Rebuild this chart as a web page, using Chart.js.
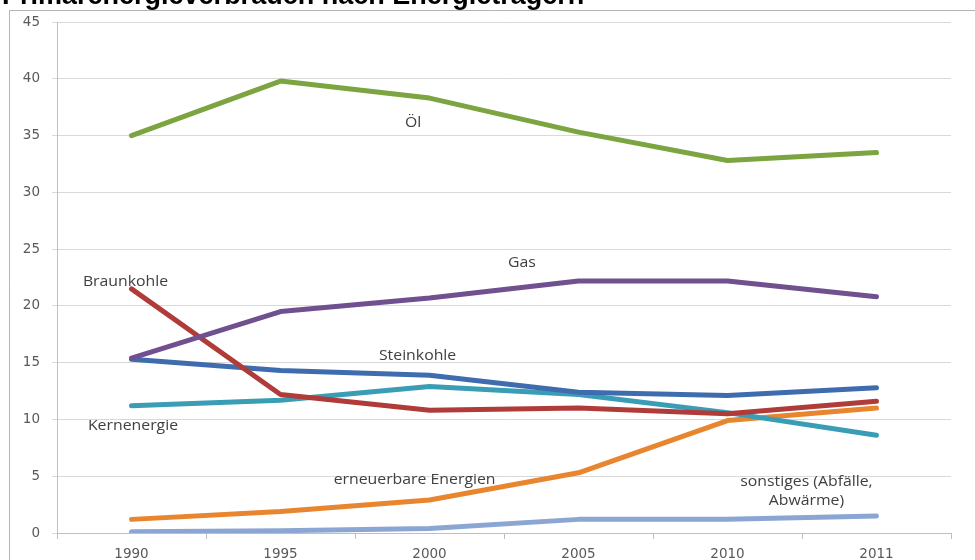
<!DOCTYPE html>
<html>
<head>
<meta charset="utf-8">
<script src="https://cdn.jsdelivr.net/npm/chart.js@4/dist/chart.umd.min.js"></script>
<style>
  html, body { margin: 0; padding: 0; background: #fff; overflow: hidden; }
  #wrap { width: 975px; height: 560px; }
</style>
</head>
<body>
<div id="wrap"><canvas id="energyChart" width="975" height="560"></canvas></div>
<script>
const titel = 'Primärenergieverbrauch nach Energieträgern';
const jahre = ['1990', '1995', '2000', '2005', '2010', '2011'];
const yTicks = [0, 5, 10, 15, 20, 25, 30, 35, 40, 45];

// Anteile in Prozent
const oel = [35.0, 39.8, 38.3, 35.3, 32.8, 33.5];
const gas = [15.4, 19.5, 20.7, 22.2, 22.2, 20.8];
const braunkohle = [21.5, 12.2, 10.8, 11.0, 10.5, 11.6];
const steinkohle = [15.3, 14.3, 13.9, 12.4, 12.1, 12.8];
const kernenergie = [11.2, 11.7, 12.9, 12.2, 10.6, 8.6];
const erneuerbare = [1.2, 1.9, 2.9, 5.3, 9.9, 11.0];
const sonstiges = [0.1, 0.2, 0.4, 1.2, 1.2, 1.5];

// Beschriftungen im Diagramm (x = Kategorie-Index, y = Achsenwert)
const beschriftungen = [
  { text: 'Öl', x: 1.89, y: 36.1 },
  { text: 'Gas', x: 2.62, y: 23.8 },
  { text: 'Braunkohle', x: -0.04, y: 22.1 },
  { text: 'Steinkohle', x: 1.92, y: 15.6 },
  { text: 'Kernenergie', x: 0.01, y: 9.4 },
  { text: 'erneuerbare Energien', x: 1.90, y: 4.7 },
  { text: 'sonstiges (Abfälle,', x: 4.53, y: 4.5 },
  { text: 'Abwärme)', x: 4.53, y: 2.8 }
];

const tickColor = '#595959';
const gridColor = '#d9d9d9';
const axisColor = '#bfbfbf';
const fontFamily = '"Open Sans", "DejaVu Sans", sans-serif';
const tickFont = { family: '"DejaVu Sans", sans-serif', size: 13.5 };

const rahmenPlugin = {
  id: 'rahmen',
  beforeDraw(chart) {
    const ctx = chart.ctx;
    ctx.save();
    ctx.strokeStyle = '#b4b4b4';
    ctx.lineWidth = 1;
    ctx.beginPath();
    ctx.moveTo(9.5, 560);
    ctx.lineTo(9.5, 10.5);
    ctx.lineTo(975, 10.5);
    ctx.stroke();
    ctx.fillStyle = '#000';
    ctx.font = 'bold 27px "Liberation Sans", Arial, sans-serif';
    ctx.textBaseline = 'alphabetic';
    ctx.textAlign = 'left';
    ctx.fillText(titel, 2, 4);
    ctx.restore();
  }
};

// Texte leicht in die Breite gezogen
const beschriftungPlugin = {
  id: 'beschriftung',
  afterDatasetsDraw(chart) {
    const ctx = chart.ctx;
    const xs = chart.scales.x, ys = chart.scales.y;
    const sx = 1.13;
    beschriftungen.forEach(b => {
      ctx.save();
      ctx.translate(xs.getPixelForValue(b.x), ys.getPixelForValue(b.y));
      ctx.scale(sx, 1);
      ctx.fillStyle = '#404040';
      ctx.font = '14px ' + fontFamily;
      ctx.textAlign = 'center';
      ctx.textBaseline = 'middle';
      ctx.fillText(b.text, 0, 0);
      ctx.restore();
    });
  }
};

const serie = (label, data, color) => ({
  label, data, borderColor: color, backgroundColor: color,
  borderWidth: 5, pointRadius: 0, tension: 0,
  borderCapStyle: 'round', borderJoinStyle: 'round', fill: false
});

new Chart(document.getElementById('energyChart'), {
  type: 'line',
  data: {
    labels: jahre,
    datasets: [
      serie('Öl', oel, '#7ca440'),
      serie('Gas', gas, '#70508f'),
      serie('Braunkohle', braunkohle, '#b03c3a'),
      serie('Steinkohle', steinkohle, '#3f6cae'),
      serie('Kernenergie', kernenergie, '#3a9db6'),
      serie('erneuerbare Energien', erneuerbare, '#e8852f'),
      serie('sonstiges (Abfälle, Abwärme)', sonstiges, '#8ca6d4')
    ]
  },
  options: {
    responsive: false,
    animation: false,
    layout: { padding: { top: 22, right: 24, left: 0, bottom: 0 } },
    plugins: { legend: { display: false }, tooltip: { enabled: false } },
    scales: {
      x: {
        offset: true,
        grid: { offset: true, drawOnChartArea: false, drawTicks: true, tickLength: 6, color: axisColor },
        border: { color: axisColor },
        ticks: { color: tickColor, font: tickFont, padding: 7, maxRotation: 0 },
        afterFit(scale) { scale.height = 27; }
      },
      y: {
        min: 0, max: 45,
        afterBuildTicks(scale) { scale.ticks = yTicks.map(v => ({ value: v })); },
        grid: { color: gridColor, tickLength: 5 },
        border: { color: axisColor },
        ticks: { color: tickColor, font: tickFont, padding: 12 },
        afterFit(scale) { scale.width = 57; }
      }
    }
  },
  plugins: [rahmenPlugin, beschriftungPlugin]
});
</script>
</body>
</html>
